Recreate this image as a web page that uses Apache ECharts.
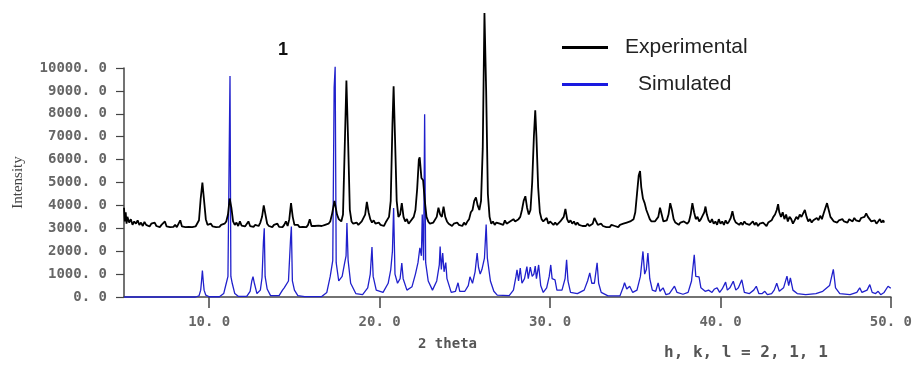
<!DOCTYPE html>
<html>
<head>
<meta charset="utf-8">
<script src="https://cdn.jsdelivr.net/npm/echarts@6/dist/echarts.min.js"></script>
<style>
html,body{margin:0;padding:0;background:#fff;}
#chart{width:915px;height:368px;}
</style>
</head>
<body>
<div id="chart"></div>
<script>
// ---- data ----
const xTicks = [10, 20, 30, 40, 50];
const expTheta = [5.0,5.05,5.1,5.15,5.2,5.3,5.4,5.5,5.6,5.7,5.8,5.9,6.0,6.1,6.2,6.3,6.4,6.5,6.6,6.7,6.8,6.9,7.0,7.1,7.2,7.3,7.4,7.5,7.6,7.7,7.8,7.9,8.0,8.1,8.2,8.3,8.4,8.5,8.6,8.7,8.8,8.9,9.0,9.1,9.2,9.3,9.4,9.5,9.6,9.7,9.8,9.9,10.0,10.1,10.2,10.3,10.4,10.5,10.6,10.7,10.8,10.9,11.0,11.1,11.2,11.3,11.4,11.5,11.6,11.7,11.8,11.9,12.0,12.1,12.2,12.3,12.4,12.5,12.6,12.7,12.8,12.9,13.0,13.1,13.2,13.3,13.4,13.5,13.6,13.7,13.8,13.9,14.0,14.1,14.2,14.3,14.4,14.5,14.6,14.7,14.8,14.9,15.0,15.1,15.2,15.3,15.4,15.5,15.6,15.7,15.8,15.9,16.0,16.1,16.2,16.3,16.4,16.5,16.6,16.7,16.8,16.9,17.0,17.1,17.2,17.35,17.5,17.6,17.75,17.85,17.95,18.05,18.15,18.25,18.35,18.45,18.55,18.65,18.75,18.85,18.95,19.05,19.15,19.25,19.35,19.45,19.55,19.65,19.75,19.85,19.95,20.05,20.15,20.25,20.35,20.45,20.55,20.65,20.75,20.82,20.9,21.0,21.1,21.2,21.3,21.4,21.5,21.6,21.7,21.8,21.9,22.0,22.1,22.2,22.3,22.35,22.45,22.55,22.65,22.75,22.85,22.95,23.05,23.15,23.25,23.35,23.45,23.55,23.65,23.75,23.85,23.95,24.05,24.15,24.25,24.35,24.45,24.55,24.65,24.75,24.85,24.95,25.05,25.15,25.25,25.35,25.45,25.55,25.65,25.75,25.85,25.95,26.05,26.15,26.25,26.35,26.45,26.55,26.65,26.75,26.85,26.95,27.05,27.15,27.25,27.35,27.45,27.55,27.65,27.75,27.85,27.95,28.05,28.15,28.25,28.35,28.45,28.55,28.65,28.75,28.85,28.95,29.05,29.13,29.2,29.3,29.4,29.5,29.6,29.7,29.8,29.9,30.0,30.1,30.2,30.3,30.4,30.5,30.6,30.7,30.8,30.9,31.0,31.1,31.2,31.3,31.4,31.5,31.6,31.7,31.8,31.9,32.0,32.1,32.2,32.3,32.4,32.5,32.6,32.7,32.8,32.9,33.0,33.1,33.2,33.3,33.4,33.5,33.6,33.7,33.8,33.9,34.0,34.1,34.2,34.3,34.4,34.5,34.6,34.7,34.8,34.9,35.0,35.1,35.2,35.28,35.35,35.45,35.55,35.65,35.75,35.85,35.95,36.05,36.15,36.25,36.35,36.45,36.55,36.65,36.75,36.85,36.95,37.05,37.15,37.25,37.35,37.45,37.55,37.65,37.75,37.85,37.95,38.05,38.15,38.25,38.35,38.45,38.55,38.65,38.75,38.85,38.95,39.05,39.12,39.2,39.3,39.4,39.5,39.6,39.7,39.8,39.9,40.0,40.1,40.2,40.3,40.4,40.5,40.6,40.7,40.8,40.9,41.0,41.1,41.2,41.3,41.4,41.5,41.6,41.7,41.8,41.9,42.0,42.1,42.2,42.3,42.4,42.5,42.6,42.7,42.8,42.9,43.0,43.1,43.2,43.3,43.38,43.45,43.55,43.65,43.75,43.85,43.95,44.05,44.15,44.25,44.35,44.45,44.55,44.65,44.75,44.85,44.95,45.05,45.15,45.25,45.35,45.45,45.55,45.65,45.75,45.85,45.95,46.05,46.15,46.25,46.35,46.45,46.55,46.65,46.75,46.85,46.95,47.05,47.15,47.25,47.35,47.45,47.55,47.65,47.75,47.85,47.95,48.05,48.15,48.25,48.35,48.45,48.55,48.65,48.75,48.85,48.95,49.05,49.15,49.25,49.35,49.45,49.55,49.6];
const expIntensity = [3900,3300,3700,3200,3500,3250,3400,3150,3300,3200,3350,3150,3250,3100,3280,3150,3220,3080,3200,3120,3250,3100,3180,3050,3150,3100,3300,3080,3150,3050,3120,3060,3150,3050,3100,3350,3080,3120,3050,3100,3060,3130,3050,3100,3080,3150,3350,4300,5000,4200,3400,3150,3100,3200,3080,3150,3050,3120,3060,3150,3080,3200,3300,3600,4300,3900,3300,3150,3250,3100,3300,3120,3200,3080,3150,3300,3100,3150,3060,3150,3080,3100,3250,3500,4000,3600,3200,3100,3180,3050,3150,3080,3200,3060,3120,3050,3150,3300,3100,3400,4100,3500,3150,3080,3150,3050,3120,3060,3100,3050,3150,3400,3100,3050,3100,3060,3120,3050,3100,3080,3150,3100,3200,3300,3600,4200,3600,3400,3300,3600,6500,9450,6800,3800,3300,3200,3150,3250,3150,3200,3300,3350,3600,4150,3700,3400,3250,3350,3200,3150,3250,3150,3200,3100,3250,3300,3500,4200,7500,9200,7000,4200,3500,3600,4100,3500,3300,3400,3200,3300,3350,3500,3800,4700,6000,6100,5200,5100,4200,3500,3300,3200,3150,3250,3300,3500,3900,3600,3500,3950,3500,3300,3200,3250,3100,3200,3150,3250,3150,3200,3100,3250,3150,3300,3400,3700,3800,4200,4350,4000,3800,4200,6500,12400,9000,4500,3500,3200,3300,3150,3250,3300,3200,3250,3150,3350,3200,3250,3300,3250,3400,3300,3350,3400,3500,3800,4200,4400,3900,3600,3800,5000,7000,8150,7000,4800,3700,3400,3300,3250,3450,3200,3300,3250,3150,3250,3150,3200,3300,3250,3500,3850,3400,3250,3350,3200,3300,3150,3250,3150,3200,3100,3150,3100,3200,3100,3150,3200,3450,3300,3150,3100,3200,3100,3150,3050,3100,3050,3150,3080,3100,3150,3050,3150,3100,3200,3150,3250,3200,3300,3250,3400,3700,4500,5300,5500,4800,4300,4100,3800,3600,3400,3300,3250,3300,3350,3500,3900,3600,3300,3250,3350,3600,4100,3800,3400,3250,3300,3150,3250,3200,3300,3250,3200,3300,3600,4100,3700,3400,3500,3300,3400,3550,3700,3950,3600,3350,3250,3400,3200,3300,3150,3400,3200,3300,3150,3350,3200,3300,3450,3750,3400,3250,3300,3150,3250,3150,3300,3200,3250,3150,3200,3300,3150,3250,3100,3200,3150,3250,3200,3100,3250,3300,3350,3500,3600,3800,4050,3700,3500,3700,3400,3600,3300,3500,3400,3200,3350,3500,3400,3600,3500,3650,3800,3500,3300,3400,3250,3350,3300,3450,3350,3550,3400,3650,3700,4100,3800,3500,3400,3300,3350,3250,3350,3300,3400,3300,3350,3250,3400,3350,3300,3450,3350,3400,3300,3450,3400,3500,3650,3500,3400,3300,3250,3350,3200,3300,3400,3250,3350,3250];
const simTheta = [5,9.2,9.4,9.5,9.55,9.6,9.65,9.7,9.8,10.0,10.6,10.85,11.0,11.1,11.17,11.22,11.27,11.35,11.5,11.7,12.2,12.4,12.5,12.57,12.65,12.8,13.0,13.1,13.18,13.23,13.28,13.4,13.6,14.1,14.3,14.4,14.5,14.65,14.77,14.82,14.88,15.0,15.2,15.6,16.6,16.9,17.1,17.25,17.33,17.39,17.45,17.6,17.8,17.95,18.03,18.08,18.15,18.3,18.6,19.0,19.3,19.45,19.55,19.62,19.8,20.2,20.5,20.65,20.75,20.82,20.9,21.05,21.2,21.3,21.38,21.6,21.9,22.1,22.25,22.36,22.45,22.5,22.58,22.64,22.7,22.85,23.1,23.35,23.5,23.55,23.62,23.7,23.78,23.88,23.95,24.2,24.45,24.6,24.7,25.0,25.2,25.3,25.45,25.6,25.72,25.8,25.9,26.0,26.15,26.25,26.32,26.4,26.5,26.7,26.9,27.6,27.85,28.0,28.06,28.15,28.25,28.35,28.5,28.64,28.72,28.84,28.95,29.05,29.13,29.2,29.33,29.45,29.6,29.8,29.95,30.04,30.12,30.29,30.4,30.7,30.88,30.97,31.05,31.2,31.6,32.0,32.2,32.33,32.45,32.6,32.76,32.85,33.0,33.4,34.1,34.3,34.37,34.5,34.67,34.85,35.1,35.3,35.45,35.55,35.65,35.74,35.85,36.0,36.2,36.34,36.45,36.63,36.8,37.0,37.3,37.45,37.8,38.1,38.3,38.46,38.55,38.74,38.85,39.1,39.3,39.5,39.65,39.8,39.95,40.1,40.3,40.4,40.55,40.75,40.9,41.05,41.25,41.4,41.7,41.95,42.1,42.25,42.45,42.6,42.75,43.0,43.15,43.3,43.45,43.7,43.9,44.0,44.1,44.25,44.5,45.0,45.6,46.0,46.4,46.62,46.75,47.0,47.6,48.0,48.17,48.3,48.6,48.76,48.9,49.1,49.25,49.4,49.6,49.83,49.95,50];
const simIntensity = [0,0,50,300,700,1150,700,300,80,10,10,150,600,900,6100,9650,900,600,150,30,30,250,700,890,600,150,300,850,2400,3000,900,350,60,60,300,400,350,700,2500,3080,700,300,60,20,20,200,900,1600,9150,10050,1500,700,900,1500,1800,3230,1600,600,150,100,400,1000,2180,900,300,200,600,1180,2000,3890,1000,600,800,1480,800,300,450,1000,1500,2150,1800,3600,1600,7980,1500,700,300,700,1400,2200,1200,1920,1100,1500,800,200,250,620,250,250,500,880,600,1100,1920,1300,1000,1200,1700,3160,1700,1700,700,250,80,60,300,900,1190,700,1260,600,800,1330,800,1300,900,1000,1350,800,1400,500,200,400,900,1400,800,750,300,300,800,1620,700,200,150,300,700,1050,600,600,1490,600,200,50,50,450,620,350,470,200,300,900,1990,1000,1200,1920,800,300,250,620,250,400,100,150,470,200,120,200,700,1840,900,880,400,250,300,200,350,400,200,350,650,300,400,690,300,400,750,200,150,300,470,150,150,250,100,150,300,600,250,400,910,500,830,300,150,100,150,250,500,1210,400,150,100,200,400,200,300,540,200,150,250,100,200,470,400,400];
const yTickLabelMax = 10000;

const zip = (a, b) => a.map((v, i) => [v, b[i]]);
const monoFont = "'DejaVu Sans Mono', 'Liberation Mono', monospace";

const chart = echarts.init(document.getElementById('chart'), null, {renderer: 'canvas'});
chart.setOption({
  animation: false,
  backgroundColor: '#ffffff',
  grid: {left: 124, right: 19, top: 68, bottom: 71},
  title: {
    text: '1', left: 273, top: 36,
    textStyle: {fontFamily: "'Liberation Sans', Arial, sans-serif", fontWeight: 'bold', fontSize: 18, color: '#111'}
  },
  legend: {
    orient: 'vertical', left: 557, top: 32, itemWidth: 46, itemHeight: 3, itemGap: 16,
    icon: 'rect',
    data: ['Experimental', 'Simulated'],
    formatter: n => n === 'Simulated' ? '{s|' + n + '}' : n,
    textStyle: {
      fontFamily: "'Liberation Sans', Arial, sans-serif", fontSize: 21, color: '#222', padding: [0, 0, 0, 12],
      rich: {s: {fontFamily: "'Liberation Sans', Arial, sans-serif", fontSize: 21, color: '#222', padding: [0, 0, 0, 13]}}
    }
  },
  xAxis: {
    type: 'value', min: 5, max: 50,
    axisLine: {lineStyle: {color: '#444', width: 1.5}},
    axisTick: {show: true, customValues: xTicks, length: 11, inside: false, lineStyle: {color: '#444', width: 1.5}},
    axisLabel: {customValues: xTicks, margin: 18, fontFamily: monoFont, fontSize: 14, fontWeight: 'bold', color: '#666',
      formatter: v => v.toFixed(1).replace('.', '. ')},
    splitLine: {show: false}
  },
  yAxis: {
    type: 'value', min: 0, max: yTickLabelMax, interval: 1000,
    name: 'Intensity', nameLocation: 'middle', nameGap: 98, nameRotate: 90,
    nameTextStyle: {fontFamily: "'Liberation Serif', 'DejaVu Serif', serif", fontSize: 15, color: '#444'},
    axisLine: {show: true, lineStyle: {color: '#444', width: 1.5}},
    axisTick: {show: true, length: 8, lineStyle: {color: '#444', width: 1.2}},
    axisLabel: {margin: 17, fontFamily: monoFont, fontSize: 14, fontWeight: 'bold', color: '#666',
      formatter: v => v.toFixed(1).replace('.', '. ')},
    splitLine: {show: false}
  },
  graphic: [{
    type: 'text', left: 418, top: 337,
    style: {text: '2 theta', font: "bold 14px 'DejaVu Sans Mono', monospace", fill: '#555'}
  }, {
    type: 'text', left: 664, top: 345,
    style: {text: 'h, k, l = 2, 1, 1', font: "bold 16px 'DejaVu Sans Mono', monospace", fill: '#555'}
  }],
  series: [
    {
      name: 'Experimental', type: 'line', data: zip(expTheta, expIntensity),
      showSymbol: false, clip: false, z: 3,
      lineStyle: {color: '#000', width: 1.8}, itemStyle: {color: '#000'}
    },
    {
      name: 'Simulated', type: 'line', data: zip(simTheta, simIntensity),
      showSymbol: false, clip: false, z: 2,
      lineStyle: {color: '#2020cc', width: 1.3}, itemStyle: {color: '#1a1ae0'}
    }
  ]
});
</script>
</body>
</html>
